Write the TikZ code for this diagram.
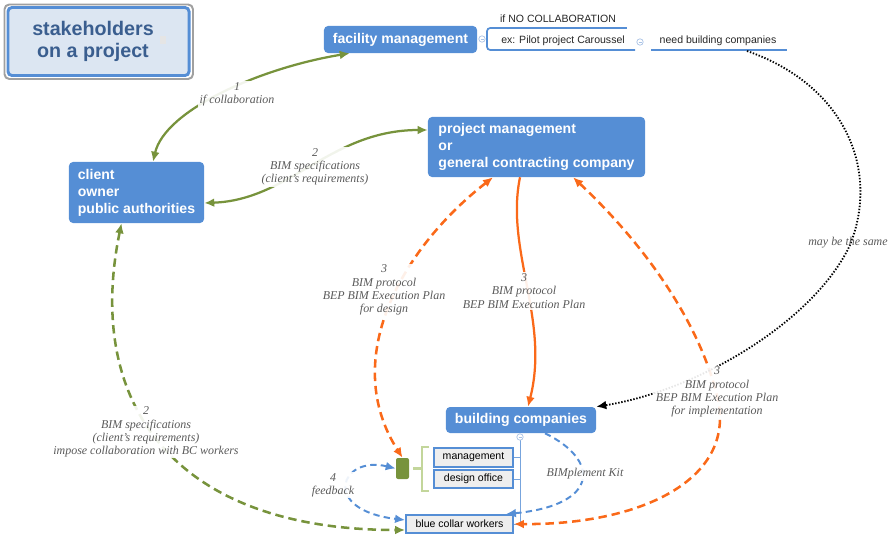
\documentclass[tikz,border=0pt]{standalone}
\usepackage{fontspec}
\setmainfont{Liberation Serif}
\setsansfont{Liberation Sans}
\usetikzlibrary{arrows.meta}
\definecolor{boxblue}{RGB}{85,142,213}
\definecolor{titlefill}{RGB}{220,230,242}
\definecolor{titleblue}{RGB}{58,94,143}
\definecolor{framegray}{RGB}{160,160,160}
\definecolor{olive}{RGB}{119,147,60}
\definecolor{orng}{RGB}{250,105,25}
\definecolor{lgreen}{RGB}{195,214,155}
\definecolor{lblgray}{RGB}{90,90,90}
\definecolor{leafgray}{RGB}{238,238,238}
\definecolor{handleblue}{RGB}{170,195,230}

\begin{document}
\begin{tikzpicture}[x=0.025cm,y=-0.025cm,>={Latex[length=2.5mm,width=2.2mm]},
  box/.style={fill=boxblue,rounded corners=0.1cm,text=white,inner sep=0pt,
    font=\sffamily\bfseries\fontsize{10}{12.1}\selectfont},
  leaf/.style={draw=boxblue,line width=1.3pt,fill=leafgray,inner sep=0pt,
    font=\sffamily\fontsize{7.5}{9}\selectfont},
  note/.style={inner sep=0pt,text=black!85,font=\sffamily\fontsize{7.5}{9}\selectfont},
  lbl/.style={align=center,inner sep=1pt,text=lblgray,fill=white,fill opacity=0.9,text opacity=1,
    font=\itshape\fontsize{8.5}{9.4}\selectfont},
  uline/.style={boxblue,line width=1.2pt},
  tree/.style={boxblue!80,line width=0.6pt},
  handle/.style={draw=handleblue,fill=white,line width=0.5pt},
  solidgreen/.style={olive,line width=1.6pt},
  dashgreen/.style={olive,line width=1.8pt,dash pattern=on 6pt off 3.5pt},
  solidorange/.style={orng,line width=1.6pt},
  dashorange/.style={orng,line width=1.8pt,dash pattern=on 6pt off 3.5pt},
  dashblue/.style={boxblue,line width=1.4pt,dash pattern=on 4.5pt off 3pt},
  dots/.style={black,line width=1.3pt,dash pattern=on 1pt off 1.2pt}]
\useasboundingbox (0,0) rectangle (893,538);

\draw[framegray,line width=1.4pt,rounded corners=0.12cm] (4.5,4.5) rectangle (193,79);
\node[draw=boxblue,line width=2.1pt,fill=titlefill,rounded corners=0.1cm,
  minimum width=4.525cm,minimum height=1.7cm] (titlebox) at (98.5,41.5) {};
\node[align=center,text=titleblue,font=\sffamily\bfseries\fontsize{14}{15.6}\selectfont] (title) at (93,41) {stakeholders\\on a project};
\fill[gray!20] (160,36) rectangle (166,44);

\node[box,minimum width=3.825cm,minimum height=0.675cm] (fm) at (400.5,39.5) {facility management};
\node[box,align=left,minimum width=3.375cm,minimum height=1.525cm] (client) at (136.5,192.5) {client\\owner\\public authorities};
\node[box,align=left,minimum width=5.425cm,minimum height=1.5cm] (pm) at (536.5,147) {project management\\or\\general contracting company};
\node[box,minimum width=3.75cm,minimum height=0.65cm] (bc) at (521,420) {building companies};
\node[leaf,minimum width=1.975cm,minimum height=0.475cm] (mgmt) at (473.5,457.5) {management};
\node[leaf,minimum width=1.975cm,minimum height=0.45cm] (design) at (473.5,479) {design office};
\node[leaf,minimum width=2.675cm,minimum height=0.45cm] (bcw) at (459.5,524) {blue collar workers};
\node[fill=olive,rounded corners=0.05cm,minimum width=0.325cm,minimum height=0.525cm,inner sep=0pt] (grn) at (402.5,468.5) {};

\node[note] (ifno) at (558,19) {if NO COLLABORATION};
\node[note] (ex) at (563,41) {ex: Pilot project Caroussel};
\node[note] (need) at (718,41) {need building companies};
\draw[uline] (492,28) -- (627,28);
\draw[uline,rounded corners=0.08cm] (497,28) -- (487,28) -- (487,50) -- (635,50);
\draw[uline] (651,50) -- (787,50);
\coordinate (nbc) at (747,51);

\draw[lgreen,line width=2pt] (429,447) -- (422,447) -- (422,491) -- (429,491);
\draw[lgreen,line width=2pt] (413,468.5) -- (422,468.5);

\coordinate (th) at (520,437);
\draw[tree] (520,440) -- (520,524) -- (bcw.east);
\foreach \n in {mgmt,design} {
\draw[tree] (\n.east) -- (\n.east -| th);
}
\foreach \p in {(482,39),(640,42),(520,437)} {
\draw[handle] \p circle [radius=0.08cm];
\draw[handleblue,line width=0.5pt] \p +(-1.5,0) -- +(1.5,0);
}

\draw[solidgreen,<->] ([xshift=0.4125cm]client.north) .. controls (165,110) and (260,68) .. ([xshift=0.65cm]fm.south west);
\draw[solidgreen,<->] ([yshift=-0.2625cm]client.east) .. controls (290,200) and (330,130) .. ([yshift=0.425cm]pm.west);
\draw[dashorange,<->] ([xshift=-1.0875cm]pm.south) .. controls (400,250) and (340,360) .. (grn.north);
\draw[solidorange,->] ([xshift=-0.4125cm]pm.south) .. controls (505,250) and (550,320) .. ([xshift=0.175cm]bc.north);
\draw[dashorange,<->] ([xshift=0.9125cm]pm.south) .. controls (640,240) and (700,320) .. (718,400) .. controls (735,480) and (640,525) .. (bcw.east);
\draw[dots,->] (nbc) .. controls (845,85) and (880,170) .. (850,245) .. controls (815,320) and (700,390) .. (bc.north east);
\draw[dashgreen,<->] ([xshift=-0.375cm]client.south) .. controls (85,400) and (170,530) .. ([yshift=-0.15cm]bcw.west);
\draw[dashblue,<->] (grn.west) .. controls (340,455) and (320,510) .. ([yshift=0.1cm]bcw.west);
\draw[dashblue,->] ([xshift=0.6cm]bc.south) .. controls (600,460) and (600,505) .. ([xshift=-0.2cm]bcw.north east);

\node[lbl] (l1) at (237,94) {1\\if collaboration};
\node[lbl] (l2) at (315,167) {2\\BIM specifications\\(client's requirements)};
\node[lbl] (l3) at (384,290) {3\\BIM protocol\\BEP BIM Execution Plan\\for design};
\node[lbl] (l4) at (524,291) {3\\BIM protocol\\BEP BIM Execution Plan};
\node[lbl] (l5) at (717,392) {3\\BIM protocol\\BEP BIM Execution Plan\\for implementation};
\node[lbl,fill=none] (l6) at (848,243) {may be the same};
\node[lbl] (l7) at (146,432) {2\\BIM specifications\\(client's requirements)\\impose collaboration with BC workers};
\node[lbl] (l8) at (333,485) {4\\feedback};
\node[lbl] (l9) at (585,474) {BIMplement Kit};
\end{tikzpicture}
\end{document}
